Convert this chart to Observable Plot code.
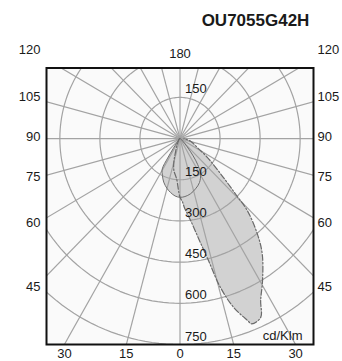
<!DOCTYPE html>
<html><head><meta charset="utf-8">
<script src="https://cdn.jsdelivr.net/npm/d3@7"></script>
<script src="https://cdn.jsdelivr.net/npm/@observablehq/plot@0.6"></script>
<style>body{margin:0;background:#fff}</style>
</head><body><div id="chart"></div>
<script>
const title = "OU7055G42H";
const unitLabel = "cd/Klm";
const ringValues = [150, 300, 450, 600, 750];
const topRingLabels = [150];
const spokeAngles = [0,15,30,45,60,75,90,105,120,135,150,165,180,195,210,225,240,255,270,285,300,315,330,345];
const sideAngles = [120, 105, 90, 75, 60, 45];
const bottomAngles = [-30, -15, 0, 15, 30];
const topAngles = [180];

// plane A (solid outline)
const planeAAngles = [-90,-60,-45,-38,-35,-33,-31,-26,-21,-15,-10,-5,0,5,11,17.6,24.5,31,35,38,42,48,60,90];
const planeAValues = [0,3,8,20,45,85,129,150,170,188,200,210,214,212,205,192,176,149,115,80,40,15,4,0];
// plane B (dash-dot outline)
const planeBAngles = [-90,-60,-40,-30,-25,-20,-15,-11,-5,0,2,4,7.6,11.1,13.5,15.6,18.1,20.9,21.7,24.9,27.1,30.9,36.3,39.9,43.9,45.5,48.9,56.3,62,76,90];
const planeBValues = [2,4,8,15,25,45,89,119,147,214,228,255,301,378,457,563,647,709,726,718,663,602,520,451,363,301,216,123,78,41,15];

const rad = d => d * Math.PI / 180;
const toXY = (angles, values) => angles.map((a, i) => ({x: values[i] * Math.sin(rad(a)), y: -values[i] * Math.cos(rad(a))}));
const planeA = toXY(planeAAngles, planeAValues);
const planeB = toXY(planeBAngles, planeBValues);

const ringPts = ringValues.flatMap(r => d3.range(0, 361, 2).map(a => ({r, x: r * Math.sin(rad(a)), y: -r * Math.cos(rad(a))})));

const xDomain = [-500, 500];
const yDomain = [-750, 257];
const labelReach = 546;

const gridColor = "#a3a3a3";
const fillColor = "#d2d2d2";
const fs = 13;

const chart = Plot.plot({
  width: 342,
  height: 361,
  marginLeft: 46,
  marginRight: 29,
  marginTop: 67.5,
  marginBottom: 17,
  x: {domain: xDomain, axis: null},
  y: {domain: yDomain, axis: null},
  style: {fontFamily: "'Liberation Sans', Arial, sans-serif", fontSize: "13px", background: "#fff", color: "#1a1a1a"},
  marks: [
    Plot.frame({fill: "#fafafa", stroke: "none"}),
    Plot.line(planeB, {x: "x", y: "y", curve: "catmull-rom", fill: fillColor, stroke: "none"}),
    Plot.line(planeA, {x: "x", y: "y", curve: "catmull-rom", fill: fillColor, stroke: "none"}),
    Plot.line(ringPts, {x: "x", y: "y", z: "r", stroke: gridColor, strokeWidth: 1.2, clip: true}),
    Plot.link(spokeAngles, {x1: 0, y1: 0, x2: a => 1400 * Math.sin(rad(a)), y2: a => -1400 * Math.cos(rad(a)), stroke: gridColor, strokeWidth: 1.2, clip: true}),
    Plot.line(planeA, {x: "x", y: "y", curve: "catmull-rom", stroke: "#6e6e6e", strokeWidth: 1}),
    Plot.line(planeB, {x: "x", y: "y", curve: "catmull-rom", stroke: "#6a6a6a", strokeWidth: 1.2, strokeDasharray: "6,2,1.5,2"}),
    Plot.text(ringValues, {x: 0, y: d => -d, text: d => String(d), textAnchor: "start", dx: 5, dy: -8, fontSize: fs}),
    Plot.text(topRingLabels, {x: 0, y: d => d, text: d => String(d), textAnchor: "start", dx: 5, dy: -9, fontSize: fs}),
    Plot.text(sideAngles, {x: xDomain[0], y: a => -labelReach / Math.tan(rad(a)), text: a => String(a), textAnchor: "end", dx: -6, dy: -2, fontSize: fs}),
    Plot.text(sideAngles, {x: xDomain[1], y: a => -labelReach / Math.tan(rad(a)), text: a => String(a), textAnchor: "start", dx: 4, dy: -2, fontSize: fs}),
    Plot.text(bottomAngles, {x: a => -yDomain[0] * Math.tan(rad(a)), y: yDomain[0], text: a => String(Math.abs(a)), dy: 9, fontSize: fs}),
    Plot.text(topAngles, {x: 0, y: yDomain[1], text: a => String(a), dy: -14.5, fontSize: fs}),
    Plot.text([unitLabel], {frameAnchor: "bottom-right", text: d => d, textAnchor: "end", lineAnchor: "middle", dx: -11, dy: -9, fontSize: fs}),
    Plot.text([title], {frameAnchor: "top", text: d => d, lineAnchor: "middle", dx: 75.5, dy: -47.5, fontWeight: "bold", fontSize: 17}),
    Plot.frame({stroke: "#111", strokeWidth: 2})
  ]
});
document.getElementById("chart").appendChild(chart);
</script>
</body></html>
